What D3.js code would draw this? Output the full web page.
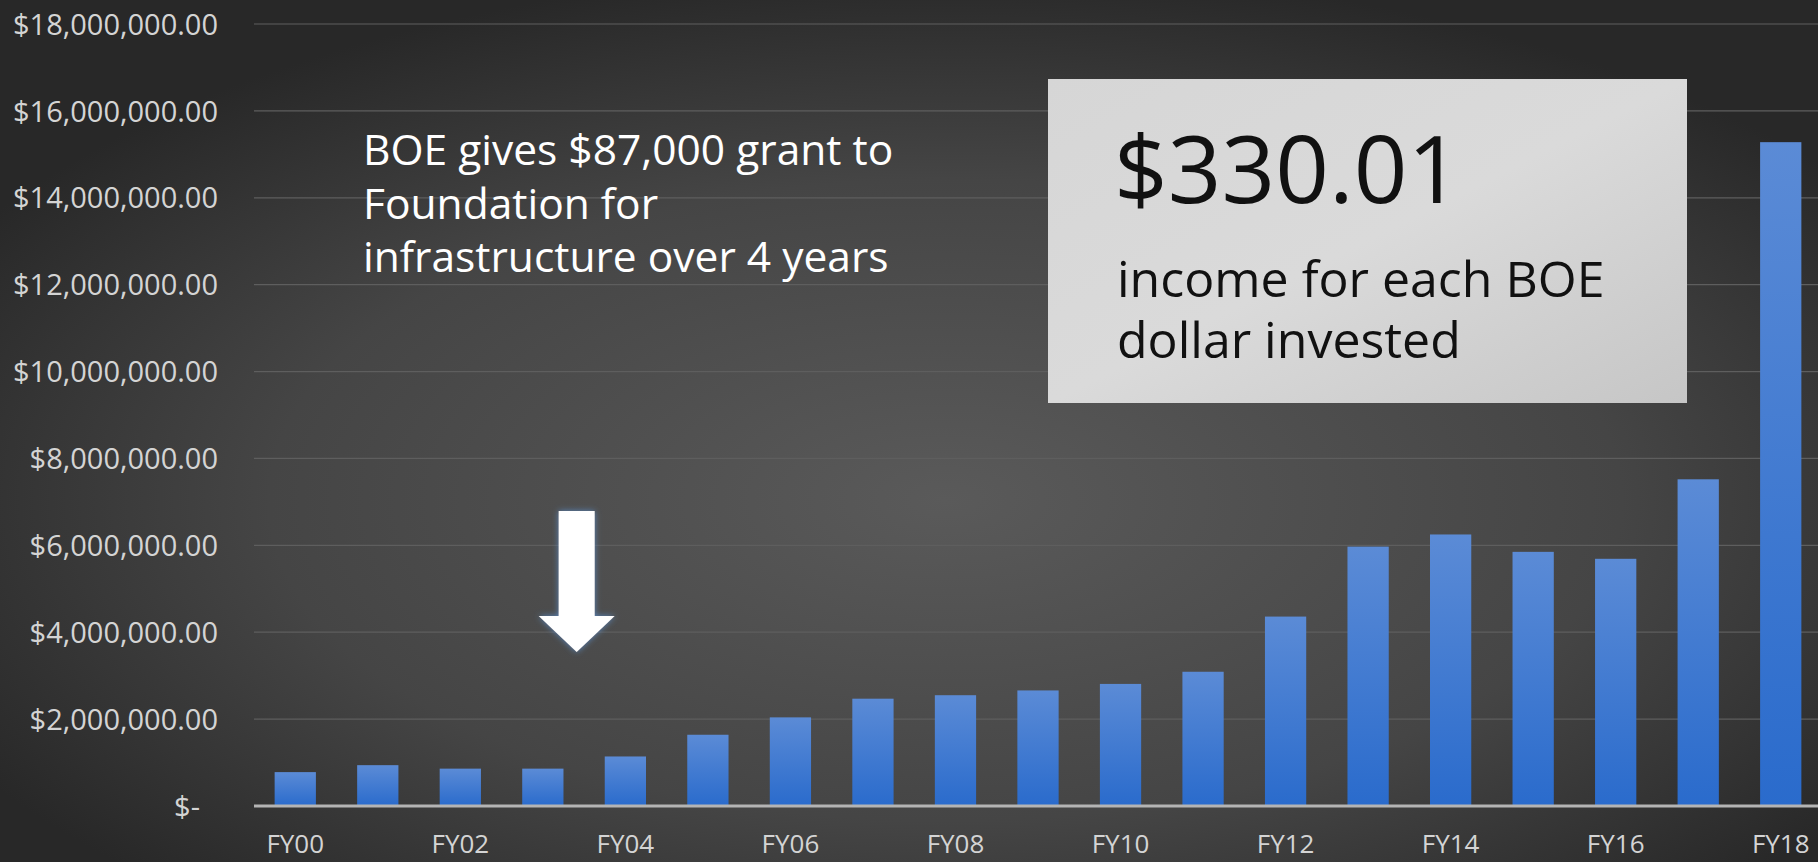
<!DOCTYPE html>
<html>
<head>
<meta charset="utf-8">
<script src="https://cdn.jsdelivr.net/npm/d3@7"></script>
<style>
html,body{margin:0;padding:0;background:#333;overflow:hidden;}
svg{display:block;}
</style>
</head>
<body>
<svg id="chart" width="1818" height="862"></svg>
<script>
// ---- data ----
const categories = ["FY00","FY01","FY02","FY03","FY04","FY05","FY06","FY07","FY08","FY09","FY10","FY11","FY12","FY13","FY14","FY15","FY16","FY17","FY18"];
const values = [780000, 940000, 860000, 860000, 1140000, 1640000, 2040000, 2470000, 2550000, 2660000, 2810000, 3090000, 4360000, 5970000, 6250000, 5850000, 5690000, 7520000, 15280000];
const yTicks = [0, 2000000, 4000000, 6000000, 8000000, 10000000, 12000000, 14000000, 16000000, 18000000];
const xLabels = ["FY00","FY02","FY04","FY06","FY08","FY10","FY12","FY14","FY16","FY18"];
const noteLines = ["BOE gives $87,000 grant to", "Foundation for", "infrastructure over 4 years"];
const boxHeadline = "$330.01";
const boxLines = ["income for each BOE", "dollar invested"];
const arrowBetween = ["FY03", "FY04"];

const W = 1818, H = 862;
const svg = d3.select("#chart");
const defs = svg.append("defs");

const bg = defs.append("radialGradient").attr("id","bg").attr("cx","52%").attr("cy","58%").attr("r","62%");
bg.append("stop").attr("offset","0%").attr("stop-color","#5a5a5a");
bg.append("stop").attr("offset","60%").attr("stop-color","#454545");
bg.append("stop").attr("offset","100%").attr("stop-color","#282828");

const barG = defs.append("linearGradient").attr("id","barg").attr("x1",0).attr("y1",0).attr("x2",0).attr("y2",1);
barG.append("stop").attr("offset","0%").attr("stop-color","#5b8bd6");
barG.append("stop").attr("offset","100%").attr("stop-color","#2a6bcc");

const boxG = defs.append("linearGradient").attr("id","boxg").attr("x1",0).attr("y1",0).attr("x2",1).attr("y2",1);
boxG.append("stop").attr("offset","0%").attr("stop-color","#d6d6d6");
boxG.append("stop").attr("offset","50%").attr("stop-color","#dadada");
boxG.append("stop").attr("offset","100%").attr("stop-color","#c6c6c6");

const glow = defs.append("filter").attr("id","glow").attr("x","-30%").attr("y","-30%").attr("width","160%").attr("height","160%");
glow.append("feGaussianBlur").attr("in","SourceAlpha").attr("stdDeviation",3).attr("result","b");
glow.append("feFlood").attr("flood-color","#5a8cc8").attr("flood-opacity",0.9);
glow.append("feComposite").attr("in2","b").attr("operator","in").attr("result","g");
const fm = glow.append("feMerge");
fm.append("feMergeNode").attr("in","g");
fm.append("feMergeNode").attr("in","SourceGraphic");

svg.append("rect").attr("width",W).attr("height",H).attr("fill","url(#bg)");

const left = 254;
const x = d3.scaleBand().domain(categories).range([254, 1822]).paddingInner(0.5).paddingOuter(0.25);
const y = d3.scaleLinear().domain([0, 18000000]).range([806, 24]);

// gridlines
svg.append("g").selectAll("line").data(yTicks.filter(d => d > 0)).join("line")
  .attr("x1", left).attr("x2", W).attr("y1", d => y(d)).attr("y2", d => y(d))
  .attr("stroke", "#5e5e5e").attr("stroke-width", 1.2);

// bars
svg.append("g").selectAll("rect").data(values).join("rect")
  .attr("x", (d,i) => x(categories[i]))
  .attr("width", x.bandwidth())
  .attr("y", d => y(d))
  .attr("height", d => y(0) - y(d))
  .attr("fill", "url(#barg)");

// baseline
svg.append("line").attr("x1", left).attr("x2", W).attr("y1", y(0)).attr("y2", y(0))
  .attr("stroke", "#b4b4b4").attr("stroke-width", 3);

// y axis
const yAxis = d3.axisLeft(y).tickValues(yTicks).tickSize(0).tickPadding(0)
  .tickFormat(d => d === 0 ? "$-" : "$" + d3.format(",.2f")(d));
const ya = svg.append("g").attr("transform", "translate(218,0)").call(yAxis);
ya.select(".domain").remove();
ya.selectAll("text").attr("fill", "#d4d4d4").attr("font-family", "'Open Sans', sans-serif")
  .attr("font-size", 29).attr("dy", "0.35em")
  .attr("x", d => d === 0 ? -18 : 0);

// x axis
const xAxis = d3.axisBottom(x).tickValues(xLabels).tickSize(0).tickPadding(0);
const xa = svg.append("g").attr("transform", `translate(0,${y(0)})`).call(xAxis);
xa.select(".domain").remove();
xa.selectAll("text").attr("fill", "#d4d4d4").attr("font-family", "'Open Sans', sans-serif")
  .attr("font-size", 26).attr("y", 47).attr("dy", 0);

// note text
svg.append("g").selectAll("text").data(noteLines).join("text")
  .attr("x", 363).attr("y", (d,i) => 165 + i * 53.5)
  .attr("fill", "#ffffff").attr("font-family", "'Open Sans', sans-serif").attr("font-size", 42.5)
  .text(d => d);

// arrow pointing between the grant years
const c0 = x(arrowBetween[0]) + x.bandwidth() / 2, c1 = x(arrowBetween[1]) + x.bandwidth() / 2;
const ax = c0 + (c1 - c0) * 0.41;
const arrow = d3.path();
arrow.moveTo(ax - 18, 511); arrow.lineTo(ax + 18, 511); arrow.lineTo(ax + 18, 616);
arrow.lineTo(ax + 38, 616); arrow.lineTo(ax, 652); arrow.lineTo(ax - 38, 616);
arrow.lineTo(ax - 18, 616); arrow.closePath();
svg.append("path").attr("d", arrow.toString()).attr("fill", "#ffffff").attr("filter", "url(#glow)");

// box
const bx = 1048, by = 79, bw = 639, bh = 324;
svg.append("rect").attr("x", bx).attr("y", by).attr("width", bw).attr("height", bh).attr("fill", "url(#boxg)");
svg.append("text").attr("x", 1114).attr("y", 203).attr("fill", "#111").attr("font-family", "'Open Sans', sans-serif")
  .attr("font-size", 94).text(boxHeadline);
svg.append("g").selectAll("text").data(boxLines).join("text")
  .attr("x", 1117).attr("y", (d,i) => 297 + i * 61)
  .attr("fill", "#111").attr("font-family", "'Open Sans', sans-serif").attr("font-size", 50)
  .text(d => d);
</script>
</body>
</html>
